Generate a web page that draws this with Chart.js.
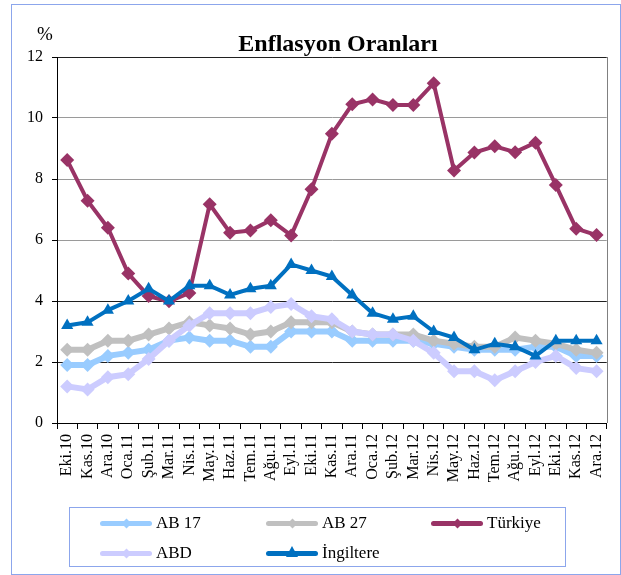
<!DOCTYPE html>
<html>
<head>
<meta charset="utf-8">
<script src="https://cdn.jsdelivr.net/npm/chart.js@4"></script>
<style>
    body { margin: 0; background: #fff; font-family: "Liberation Serif", "Times New Roman", serif; }
    #wrap { position: relative; width: 621px; height: 575px; }
    #chart { position: absolute; left: 0; top: 0; }
    .frame { position: absolute; left: 11px; top: 4px; width: 608px; height: 569px; border: 1px solid #8CA6EC; }
    .title { position: absolute; left: 38px; top: 31px; width: 600px; text-align: center;
             font-size: 24px; line-height: 24px; font-weight: bold; }
    .unit { position: absolute; left: 37px; top: 24px; font-size: 19px; line-height: 19px; }
    .legend { position: absolute; left: 69px; top: 507px; width: 495px; height: 58px; border: 1px solid #8CA6EC; }
    .item { position: absolute; height: 20px; font-size: 17px; line-height: 20px; }
    .item .line { position: absolute; left: 0; top: 8px; width: 52px; height: 5px; border-radius: 3px; }
    .item .mark { position: absolute; left: 23px; top: 7px; width: 7px; height: 7px; transform: rotate(45deg); }
    .item .tri { position: absolute; left: 20px; top: 3px; width: 0; height: 0;
                 border-left: 6px solid transparent; border-right: 6px solid transparent; border-bottom: 11px solid; }
    .item span { position: absolute; left: 56px; top: 0; white-space: nowrap; }
</style>
</head>
<body>
<div id="wrap">
    <canvas id="chart" width="621" height="575"></canvas>
    <div class="frame"></div>
    <div class="unit">%</div>
    <div class="title">Enflasyon Oranları</div>
    <div class="legend" id="legend"></div>
</div>
<script>
// Months, Oct 2010 - Dec 2012
const months = ['Eki.10', 'Kas.10', 'Ara.10', 'Oca.11', 'Şub.11', 'Mar.11', 'Nis.11', 'May.11', 'Haz.11',
    'Tem.11', 'Ağu.11', 'Eyl.11', 'Eki.11', 'Kas.11', 'Ara.11', 'Oca.12', 'Şub.12', 'Mar.12', 'Nis.12',
    'May.12', 'Haz.12', 'Tem.12', 'Ağu.12', 'Eyl.12', 'Eki.12', 'Kas.12', 'Ara.12'];

// Inflation rates (%)
const ab17 = [1.9, 1.9, 2.2, 2.3, 2.4, 2.7, 2.8, 2.7, 2.7, 2.5, 2.5, 3.0, 3.0, 3.0, 2.7, 2.7, 2.7, 2.7, 2.6,
    2.5, 2.4, 2.4, 2.4, 2.5, 2.5, 2.2, 2.2];
const ab27 = [2.4, 2.4, 2.7, 2.7, 2.9, 3.1, 3.3, 3.2, 3.1, 2.9, 3.0, 3.3, 3.3, 3.3, 3.0, 2.9, 2.9, 2.9, 2.7,
    2.6, 2.5, 2.5, 2.8, 2.7, 2.6, 2.4, 2.3];
const turkiye = [8.62, 7.29, 6.40, 4.90, 4.16, 3.99, 4.26, 7.17, 6.24, 6.31, 6.65, 6.15, 7.66, 9.48, 10.45,
    10.61, 10.43, 10.43, 11.14, 8.28, 8.87, 9.07, 8.88, 9.19, 7.80, 6.37, 6.16];
const abd = [1.2, 1.1, 1.5, 1.6, 2.1, 2.7, 3.2, 3.6, 3.6, 3.6, 3.8, 3.9, 3.5, 3.4, 3.0, 2.9, 2.9, 2.7, 2.3,
    1.7, 1.7, 1.4, 1.7, 2.0, 2.2, 1.8, 1.7];
const ingiltere = [3.2, 3.3, 3.7, 4.0, 4.4, 4.0, 4.5, 4.5, 4.2, 4.4, 4.5, 5.2, 5.0, 4.8, 4.2, 3.6, 3.4, 3.5,
    3.0, 2.8, 2.4, 2.6, 2.5, 2.2, 2.7, 2.7, 2.7];

// y axis ticks
const yTicks = [0, 2, 4, 6, 8, 10, 12];

const FONT = "'Liberation Serif', 'Times New Roman', serif";

function series(label, data, color, style, width, radius, order) {
    return {
        label: label,
        data: data,
        borderColor: color,
        backgroundColor: color,
        borderWidth: width,
        pointStyle: style,
        pointRadius: radius,
        pointHoverRadius: radius,
        pointBorderWidth: 0,
        tension: 0,
        order: order
    };
}

const datasets = [
    series('AB 17', ab17, '#99CCFF', 'rectRot', 6, 7, 5),
    series('AB 27', ab27, '#C0C0C0', 'rectRot', 6, 7, 4),
    series('Türkiye', turkiye, '#993366', 'rectRot', 4, 7, 3),
    series('ABD', abd, '#CCCCFF', 'rectRot', 6, 7, 2),
    series('İngiltere', ingiltere, '#0070C0', 'triangle', 4, 7, 1)
];

// gray right edge of the plot area
const rightEdge = {
    id: 'rightEdge',
    afterDraw(chart) {
        const a = chart.chartArea, ctx = chart.ctx;
        ctx.save();
        ctx.strokeStyle = '#808080';
        ctx.lineWidth = 1;
        ctx.beginPath();
        ctx.moveTo(Math.round(a.right) + 0.5, a.top);
        ctx.lineTo(Math.round(a.right) + 0.5, a.bottom);
        ctx.stroke();
        ctx.restore();
    }
};

// grid line shade: lower lines come out darker in the original
function gridColor(ctx) {
    if (!ctx.tick) return '#8c8c8c';
    const v = ctx.tick.value;
    return (v === 12 || v <= 4) ? '#202020' : '#9a9a9a';
}

function drawChart() {
    new Chart(document.getElementById('chart'), {
        type: 'line',
        data: { labels: months, datasets: datasets },
        options: {
            responsive: false,
            animation: false,
            layout: { padding: { left: 0, top: 57, right: 13, bottom: 72 } },
            plugins: {
                legend: { display: false },
                title: { display: false },
                tooltip: { enabled: false }
            },
            scales: {
                x: {
                    offset: true,
                    grid: { offset: true, drawOnChartArea: false, color: '#000', tickLength: 6 },
                    border: { color: '#000', width: 1 },
                    ticks: {
                        autoSkip: false, minRotation: 90, maxRotation: 90, padding: 5,
                        color: '#000', font: { family: FONT, size: 16 }
                    },
                    afterFit(scale) { scale.height = 80; }
                },
                y: {
                    min: 0, max: 12,
                    afterBuildTicks(scale) { scale.ticks = yTicks.map(v => ({ value: v })); },
                    grid: { color: gridColor, tickColor: '#000', tickLength: 5 },
                    border: { color: '#000', width: 1 },
                    ticks: { padding: 9, color: '#000', font: { family: FONT, size: 16 } },
                    afterFit(scale) { scale.width = 57; }
                }
            }
        },
        plugins: [rightEdge]
    });
}

// HTML legend built from the datasets
const legendPos = [[30, 5], [196, 5], [361, 5], [30, 35], [196, 35]];
const legendEl = document.getElementById('legend');
datasets.forEach((ds, i) => {
    const item = document.createElement('div');
    item.className = 'item';
    item.style.left = legendPos[i][0] + 'px';
    item.style.top = legendPos[i][1] + 'px';
    const marker = ds.pointStyle === 'triangle'
        ? `<div class="tri" style="border-bottom-color:${ds.borderColor}"></div>`
        : `<div class="mark" style="background:${ds.borderColor}"></div>`;
    item.innerHTML = `<div class="line" style="background:${ds.borderColor}"></div>${marker}<span>${ds.label}</span>`;
    legendEl.appendChild(item);
});

document.fonts.load("16px 'Liberation Serif'").then(drawChart, drawChart);
</script>
</body>
</html>
